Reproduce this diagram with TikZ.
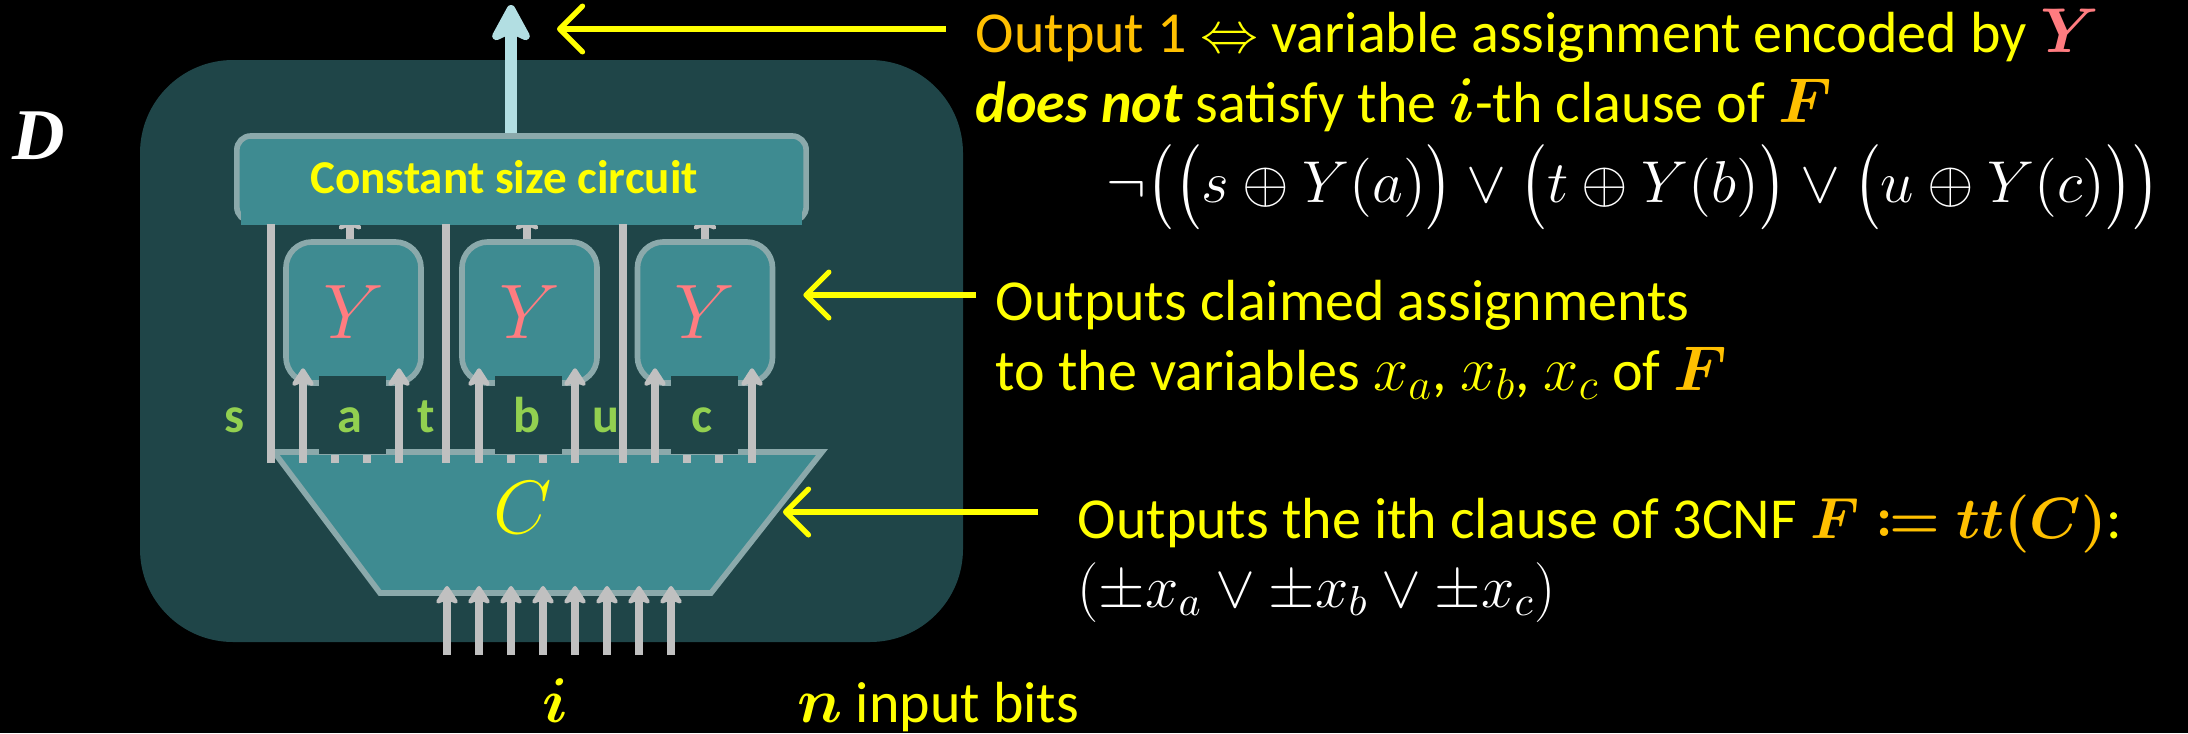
\RequirePackage{fix-cm}
\documentclass[tikz,border=0pt]{standalone}
\usepackage{amsmath,amssymb,mathtools,bm,graphicx}
\usepackage{fontspec}
\setmainfont{Carlito}
\newfontfamily\Dfont{Liberation Serif}
\usetikzlibrary{arrows.meta,calc}
\definecolor{bgD}{RGB}{31,69,72}
\definecolor{boxF}{RGB}{62,139,145}
\definecolor{boxB}{RGB}{139,169,171}
\definecolor{wirec}{RGB}{192,192,192}
\definecolor{upc}{RGB}{178,222,226}
\definecolor{yel}{RGB}{255,255,0}
\definecolor{orng}{RGB}{255,192,0}
\definecolor{pinkY}{RGB}{255,124,128}
\definecolor{grn}{RGB}{146,208,80}
\newcommand{\mbig}[1]{{\fontsize{18pt}{20pt}\selectfont$#1$}}
\newcommand{\Lp}{\mathopen{\vcenter{\hbox{\scalebox{1}[1.2]{$\big($}}}}}
\newcommand{\Rp}{\mathclose{\vcenter{\hbox{\scalebox{1}[1.2]{$\big)$}}}}}
\tikzset{
  blk/.style={fill=boxF,draw=boxB,line width=1.6pt,inner sep=0pt},
  gwire/.style={draw=wirec,line width=2.3pt},
  garrow/.style={gwire,-{Stealth[length=6pt,width=7.7pt,inset=1.5pt,round]}},
  yarrow/.style={draw=yel,line width=1.5pt,-{Straight Barb[length=6.5pt,width=13pt,round]}},
  txt/.style={anchor=base west,inner sep=0pt,text=yel,font=\fontsize{16.5pt}{19.8pt}\selectfont},
  lbl/.style={anchor=base,inner sep=0pt,text=grn,font=\fontsize{14.3pt}{16pt}\selectfont\bfseries},
}
\begin{document}
\begin{tikzpicture}[x=0.01cm,y=-0.01cm]
\fill[black] (0,0) rectangle (2188,733);
\useasboundingbox (0,0) rectangle (2188,733);
% D box
\fill[bgD,rounded corners=0.93cm] (140,60) rectangle (963,642);
\node[text=white,inner sep=0pt,font=\fontsize{20.7pt}{24pt}\Dfont\bfseries\itshape] (D) at (39,136) {D};
% up arrow tip
\coordinate (upTip) at (511,5);
% arrows Y -> constant box (drawn under the box)
\foreach \n/\x in {a/350,b/527,c/705}{
  \coordinate (yo\n) at (\x,256);
}
% constant box
\node[blk,rounded corners=0.14cm,minimum width=5.69cm,minimum height=0.85cm] (cb) at (521.5,178.5) {};
\foreach \n in {a,b,c}{
  \draw[gwire,line width=2.1pt,-{Stealth[length=6pt,width=8pt,inset=1.5pt,round]}] (yo\n) -- (yo\n |- cb.south) -- ++(0,-12);
}
\fill[blk,draw=none] ([xshift=2pt,yshift=-0.2pt]cb.south west) rectangle ([xshift=-2pt,yshift=12pt]cb.south east);
\draw[upc,line width=3.4pt,-{Stealth[length=12.5pt,width=13.4pt,inset=3pt,round]}] (cb.north -| upTip) -- (upTip);
\node[inner sep=0pt,text=yel,font=\fontsize{13.4pt}{16pt}\selectfont\bfseries] (cbt) at (504,177) {Constant size circuit};
% Y boxes
\foreach \n/\x in {a/353.5,b/529.5,c/705}{
  \node[blk,rounded corners=0.26cm,minimum width=1.35cm,minimum height=1.41cm,
        text=pinkY,font=\fontsize{22pt}{24pt}\selectfont] (Y\n) at (\x,312.5) {$Y$};
}
% C trapezoid
\coordinate (Ctl) at (274,452);
\coordinate (Ctr) at (822,452);
\coordinate (Cbr) at (711,593);
\coordinate (Cbl) at (380,593);
\filldraw[fill=boxF,draw=boxB,line width=1.6pt,line join=miter] (Ctl) -- (Ctr) -- (Cbr) -- (Cbl) -- cycle;
\node[inner sep=0pt,text=yel,font=\fontsize{21.5pt}{24pt}\selectfont] (C) at (523,508) {$C$};
% notches
\foreach \x in {319,495,671}{
  \fill[bgD] (\x,376) rectangle ++(67,78);
  \draw[wirec,line width=2pt] (\x+16,455) -- ++(0,8);
  \draw[wirec,line width=2pt] (\x+48,455) -- ++(0,8);
}
% s,t,u wires
\foreach \x in {271,446,623}{
  \coordinate (w\x) at (\x,463);
  \draw[gwire,line width=2pt] (w\x) -- (w\x |- cb.south);
}
% input arrows to Y boxes
\foreach \x/\n in {303/a,399/a,479/b,575/b,655/c,752/c}{
  \coordinate (in\x) at (\x,463);
  \draw[garrow] (in\x) -- ([yshift=5pt]in\x |- Y\n.south);
}
% labels
\node[lbl] (ls) at (235,432) {s};
\node[lbl] (la) at (350,432) {a};
\node[lbl] (lt) at (426,432) {t};
\node[lbl] (lb) at (527,432) {b};
\node[lbl] (lu) at (606,432) {u};
\node[lbl] (lc) at (702,432) {c};
% bottom input arrows
\foreach \k in {0,...,7}{
  \coordinate (bi\k) at (447+32*\k,655);
  \draw[garrow] (bi\k) -- ([yshift=2pt]bi\k |- Cbl);
}
\node[txt,anchor=base,font=\fontsize{18pt}{20pt}\selectfont] (ii) at (555,722) {$\bm{i}$};
\node[txt] (nib) at (797,722) {\mbig{\bm{n}} input bits};
% texts right
\node[txt] (t1) at (975,52) {{\color{orng}Output 1} $\Leftrightarrow$ variable assignment encoded by {\color{pinkY}\mbig{\bm{Y}}}};
\node[txt] (t2) at (975,122) {{\bfseries\itshape does not} satisfy the \mbig{\bm{i}}-th clause of {\color{orng}\mbig{\bm{F}}}};
\node[txt,text=white,font=\fontsize{16.8pt}{19.8pt}\selectfont] (t3) at (1106,202) {\resizebox{10.53cm}{\height}{$\neg\Lp\Lp s\oplus Y(a)\Rp\vee\Lp t\oplus Y(b)\Rp\vee\Lp u\oplus Y(c)\Rp\Rp$}};
\node[txt] (t4) at (995,320) {Outputs claimed assignments};
\node[txt] (t5) at (995,390) {to the variables \mbig{x_a}, \mbig{x_b}, \mbig{x_c} of {\color{orng}\mbig{\bm{F}}}};
\node[txt] (t6) at (1077,538) {Outputs the ith clause of 3CNF {\color{orng}$\bm{F\coloneqq tt(C)}$}:};
\node[txt,text=white,font=\fontsize{17pt}{19.8pt}\selectfont] (t7) at (1077,607) {$(\pm x_a\vee\pm x_b\vee\pm x_c)$};
% yellow pointer arrows
\coordinate (p1) at (946,29);
\draw[yarrow] (p1) -- ($(upTip|-p1)+(46,0)$);
\coordinate (p2) at (976,295);
\draw[yarrow] (p2) -- ($(Yc.east|-p2)+(28,0)$);
\coordinate (p3) at (1038,512);
\draw[yarrow] (p3) -- (783,512);
\end{tikzpicture}
\end{document}
